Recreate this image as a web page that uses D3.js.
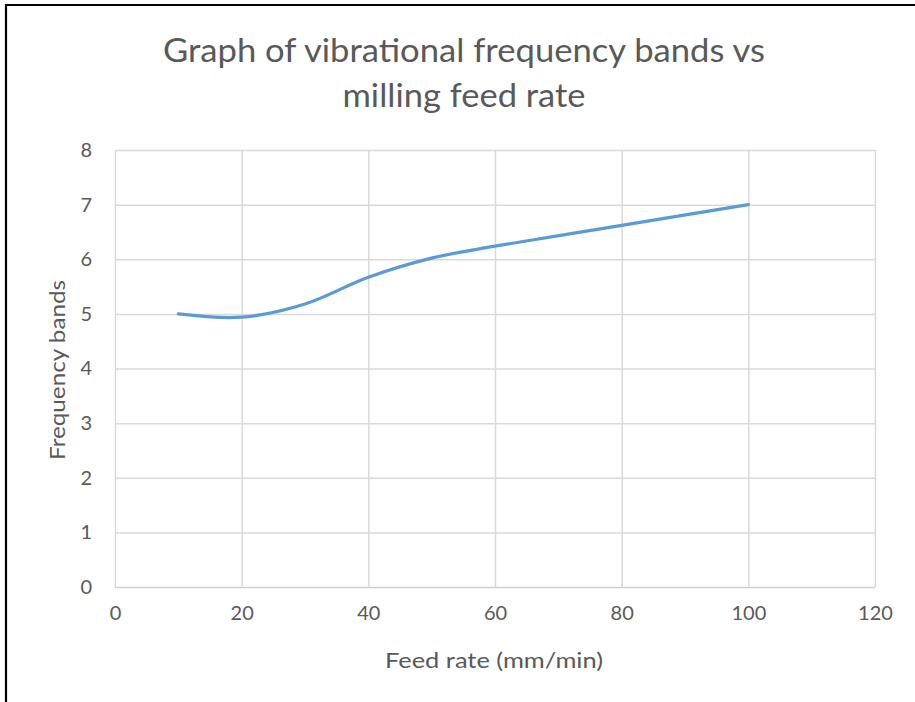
<!DOCTYPE html>
<html><head><meta charset="utf-8">
<script src="https://cdn.jsdelivr.net/npm/d3@7"></script>
<style>
body{margin:0;background:#fff;}
svg text{font-family:"Lato","Open Sans",sans-serif;fill:#595959;}
</style></head>
<body><svg id="c" width="915" height="702"></svg>
<script>
const feedRate = [10, 20, 30, 40, 50, 60, 80, 100];
const freqBands = [5, 4.94, 5.18, 5.67, 6.02, 6.24, 6.62, 7];
const xTicks = [0, 20, 40, 60, 80, 100, 120];
const yTicks = [0, 1, 2, 3, 4, 5, 6, 7, 8];
const titleLines = ["Graph of vibrational frequency bands vs", "milling feed rate"];
const xTitle = "Feed rate (mm/min)";
const yTitle = "Frequency bands";

const svg = d3.select("#c");
const m = {l:115, r:875, t:150, b:587};
const x = d3.scaleLinear().domain([0,120]).range([m.l, m.r]);
const y = d3.scaleLinear().domain([0,8]).range([m.b, m.t]);

// outer frame (left and top edges visible)
svg.append("path").attr("d","M6,702 V5 H915").attr("fill","none").attr("stroke","#000").attr("stroke-width",2.2);

// gridlines
const gx = svg.append("g").attr("transform",`translate(0,${m.b})`)
  .call(d3.axisBottom(x).tickValues(xTicks).tickSize(-(m.b-m.t)).tickFormat(d=>d).tickPadding(19));
gx.select(".domain").remove();
gx.selectAll(".tick line").attr("stroke","#d9d9d9").attr("stroke-width",1.5);
gx.selectAll(".tick text").attr("font-size",20).style("fill","#595959");

const gy = svg.append("g").attr("transform",`translate(${m.l},0)`)
  .call(d3.axisLeft(y).tickValues(yTicks).tickSize(-(m.r-m.l)).tickFormat(d=>d).tickPadding(23));
gy.select(".domain").remove();
gy.selectAll(".tick line").attr("stroke","#d9d9d9").attr("stroke-width",1.5);
gy.selectAll(".tick text").attr("font-size",20).style("fill","#595959");
gy.selectAll(".tick").filter(d=>d===0).select("line").attr("stroke","#cfcfcf");

// line
const pts = feedRate.map((d,i)=>[d,freqBands[i]]);
svg.append("path").datum(pts)
  .attr("fill","none").attr("stroke","#5b9bd5").attr("stroke-width",3.2)
  .attr("stroke-linecap","round")
  .attr("d", d3.line().x(d=>x(d[0])).y(d=>y(d[1])).curve(d3.curveCardinal.tension(0)));

// titles
svg.append("text").attr("x",464).attr("y",62).attr("text-anchor","middle").attr("font-size",33)
  .attr("textLength",602).attr("lengthAdjust","spacingAndGlyphs").text(titleLines[0]);
svg.append("text").attr("x",464).attr("y",107).attr("text-anchor","middle").attr("font-size",33)
  .attr("textLength",243).attr("lengthAdjust","spacingAndGlyphs").text(titleLines[1]);
svg.append("text").attr("x",494).attr("y",668).attr("text-anchor","middle").attr("font-size",22)
  .attr("textLength",218).attr("lengthAdjust","spacingAndGlyphs").text(xTitle);
svg.append("text").attr("transform","translate(65,370) rotate(-90)").attr("text-anchor","middle").attr("font-size",22)
  .attr("textLength",180).attr("lengthAdjust","spacingAndGlyphs").text(yTitle);
</script></body></html>
